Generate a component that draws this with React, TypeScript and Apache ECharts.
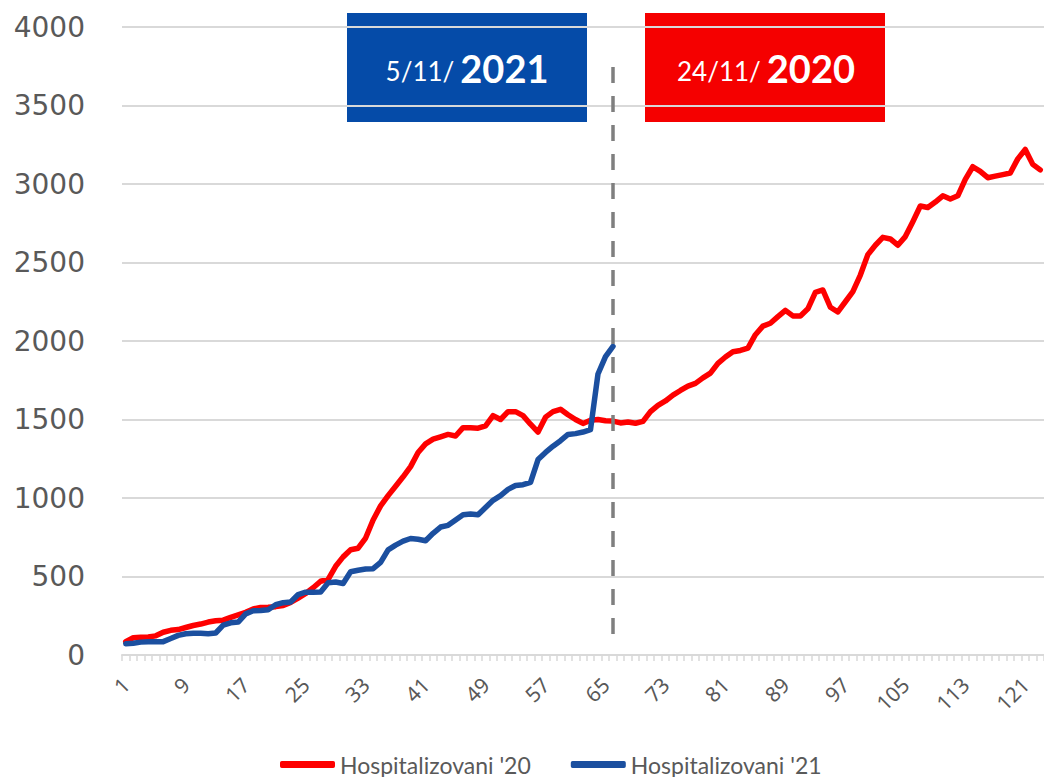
import React, { useEffect, useRef } from "react";
import * as echarts from "echarts";

const categories: string[] = Array.from({ length: 123 }, (_, i) => String(i + 1));

const hosp20: number[] = [
  85, 110, 113, 115, 122, 145, 157, 162, 175, 188,
  197, 210, 218, 222, 240, 256, 272, 293, 303, 304,
  308, 315, 335, 362, 392, 428, 470, 482, 565, 625,
  670, 680, 745, 860, 950, 1015, 1075, 1135, 1200, 1290,
  1345, 1375, 1390, 1405, 1395, 1448, 1448, 1445, 1460, 1525,
  1500, 1550, 1550, 1525, 1470, 1420, 1515, 1550, 1565, 1530,
  1500, 1475, 1495, 1500, 1492, 1490, 1478, 1484, 1476, 1488,
  1550, 1590, 1618, 1655, 1685, 1713, 1730, 1765, 1795, 1858,
  1898, 1932, 1940, 1955, 2040, 2095, 2113, 2155, 2195, 2160,
  2160, 2205, 2310, 2325, 2215, 2185, 2250, 2315, 2420, 2550,
  2610, 2660, 2650, 2610, 2665, 2760, 2860, 2850, 2885, 2925,
  2905, 2925, 3030, 3110, 3080, 3040, 3050, 3060, 3070, 3160,
  3220, 3125, 3090,
];

const hosp21: number[] = [
  72, 75, 82, 85, 85, 85, 105, 125, 135, 138,
  138, 136, 140, 190, 205, 210, 262, 282, 283, 288,
  320, 333, 338, 385, 400, 400, 402, 460, 465, 455,
  530, 540, 548, 550, 590, 670, 700, 725, 742, 737,
  728, 775, 815, 826, 860, 893, 898, 893, 940, 985,
  1015, 1055, 1080, 1085, 1100, 1245, 1290, 1330, 1365, 1405,
  1410, 1420, 1435, 1790, 1900, 1965,
];

const seriesNames = ["Hospitalizovani '20", "Hospitalizovani '21"];
const yTicks = { min: 0, max: 4000, interval: 500 };
const markerIndex = 65; // category "66"
const markerRange = [3745, 64];

export default function App() {
  const ref = useRef<HTMLDivElement>(null);

  useEffect(() => {
    if (!ref.current) return;
    const chart = echarts.init(ref.current, undefined, { renderer: "svg" });
    const boxText = (date: string, year: string) => ({
      text: `{a|${date}}{b|${year}}`,
      fill: "#ffffff",
      align: "center",
      verticalAlign: "middle",
      rich: {
        a: {
          fontFamily: "Lato",
          fontSize: 26,
          fill: "#ffffff",
          color: "#ffffff",
          verticalAlign: "bottom",
          padding: [0, 6, 3, 0],
        },
        b: {
          fontFamily: "Lato",
          fontSize: 38,
          fontWeight: "bold",
          fill: "#ffffff",
          color: "#ffffff",
          verticalAlign: "bottom",
        },
      },
    });
    chart.setOption({
      animation: false,
      backgroundColor: "#ffffff",
      grid: { left: 122, right: 0, top: 27, bottom: 122, containLabel: false },
      legend: {
        left: 280,
        top: 753,
        padding: 0,
        icon: "roundRect",
        itemWidth: 55,
        itemHeight: 7,
        itemGap: 40,
        textStyle: { fontFamily: "Lato", fontSize: 23, color: "#595959" },
        data: seriesNames,
      },
      xAxis: {
        type: "category",
        data: categories,
        boundaryGap: true,
        axisLine: { lineStyle: { color: "#d9d9d9", width: 2 } },
        axisTick: { show: true, interval: 0, length: 6, lineStyle: { color: "#d9d9d9", width: 1.5 } },
        axisLabel: {
          interval: 7,
          rotate: 45,
          margin: 26,
          fontFamily: "Noto Sans",
          fontSize: 21,
          color: "#595959",
        },
        splitLine: { show: false },
      },
      yAxis: {
        type: "value",
        min: yTicks.min,
        max: yTicks.max,
        interval: yTicks.interval,
        axisLine: { show: false },
        axisTick: { show: false },
        axisLabel: {
          margin: 37,
          fontFamily: "DejaVu Sans",
          fontSize: 28,
          color: "#595959",
          formatter: (v: number) => String(v),
        },
        splitLine: { lineStyle: { color: "#d9d9d9", width: 2 } },
      },
      series: [
        {
          name: seriesNames[0],
          type: "line",
          data: hosp20,
          symbol: "none",
          lineStyle: { color: "#fe0000", width: 5.5, join: "round", cap: "round" },
          itemStyle: { color: "#fe0000" },
          z: 2,
          markLine: {
            silent: true,
            symbol: ["none", "none"],
            label: { show: false },
            lineStyle: { color: "#7f7f7f", width: 3.5, type: [16, 13] },
            data: [[{ coord: [markerIndex, markerRange[0]] }, { coord: [markerIndex, markerRange[1]] }]],
          },
        },
        {
          name: seriesNames[1],
          type: "line",
          data: hosp21,
          symbol: "none",
          lineStyle: { color: "#1b4f9f", width: 5.5, join: "round", cap: "round" },
          itemStyle: { color: "#1b4f9f" },
          z: 3,
        },
      ],
      graphic: [
        {
          type: "group",
          children: [
            { type: "rect", shape: { x: 347, y: 13, width: 240, height: 109 }, style: { fill: "#054ba8" } },
            { type: "text", x: 467, y: 68, style: boxText("5/11/", "2021") },
            { type: "rect", shape: { x: 645, y: 13, width: 240, height: 109 }, style: { fill: "#f50000" } },
            { type: "text", x: 766, y: 68, style: boxText("24/11/", "2020") },
          ],
        },
      ],
    });
    return () => chart.dispose();
  }, []);

  return (
    <div
      ref={ref}
      style={{ position: "absolute", left: 0, top: 0, width: 1044, height: 777, background: "#fff" }}
    />
  );
}
